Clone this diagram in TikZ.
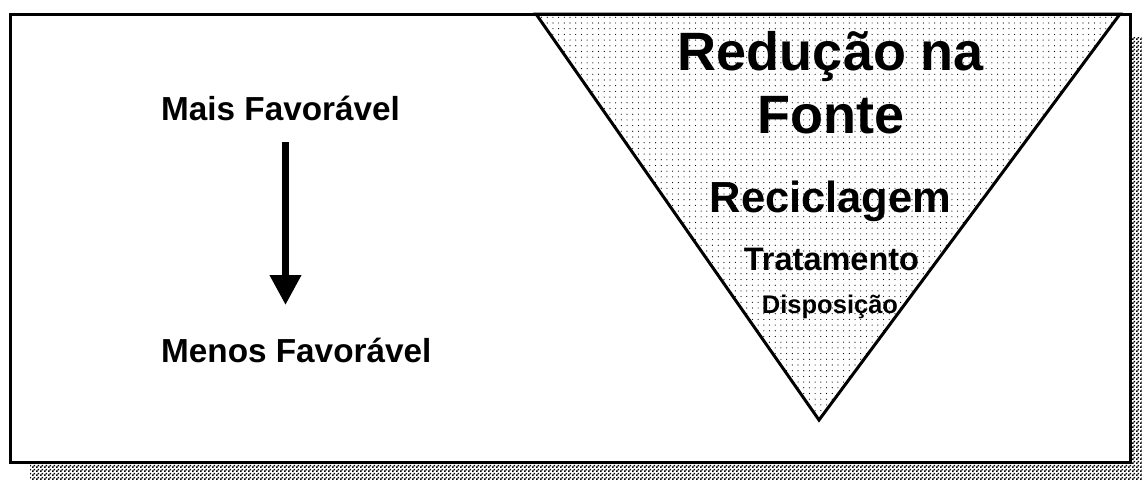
\documentclass[tikz,border=0pt]{standalone}
\usepackage{fontspec}
\setmainfont{Liberation Sans}
\usetikzlibrary{arrows.meta,patterns,patterns.meta}
\pgfdeclarepatternformonly{checker}{\pgfpointorigin}{\pgfpoint{4pt}{4pt}}{\pgfpoint{4pt}{4pt}}{%
  \pgfpathrectangle{\pgfpointorigin}{\pgfpoint{2pt}{2pt}}%
  \pgfpathrectangle{\pgfpoint{2pt}{2pt}}{\pgfpoint{2pt}{2pt}}%
  \pgfusepath{fill}}

\begin{document}
\begin{tikzpicture}[x=1pt,y=-1pt,
    txt/.style={inner sep=0pt,anchor=base,font=\bfseries\fontsize{#1}{#1}\selectfont}]
  \useasboundingbox (0,0) rectangle (1142,479);
  \fill[pattern=checker] (30,37) rectangle (1142,479);
  \draw[line width=3pt,fill=white] (10,14) rectangle (1130,462);
  \draw[line width=3pt,pattern={Dots[distance=5.7pt,radius=0.6pt]}] (536,14) -- (1120,14) -- (819,420) -- cycle;
  \node[txt=33.3,anchor=base west] (mais) at (161,120) {Mais Favorável};
  \node[txt=33.3,anchor=base west] (menos) at (161,362) {Menos Favorável};
  \node[txt=54] (reducao) at (831,70) {Redução na};
  \node[txt=54] (fonte) at (831,133) {Fonte};
  \node[txt=43.5] (recicl) at (830.5,212) {Reciclagem};
  \node[txt=32.5] (trat) at (831.5,270) {Tratamento};
  \node[txt=25.5] (disp) at (830,313) {Disposição};
  \coordinate (seta1) at (285.5,142);
  \coordinate (seta2) at (285.5,305);
  \draw[line width=7pt,-{Triangle[width=30pt,length=30pt]}] (seta1) -- (seta2);
\end{tikzpicture}
\end{document}
